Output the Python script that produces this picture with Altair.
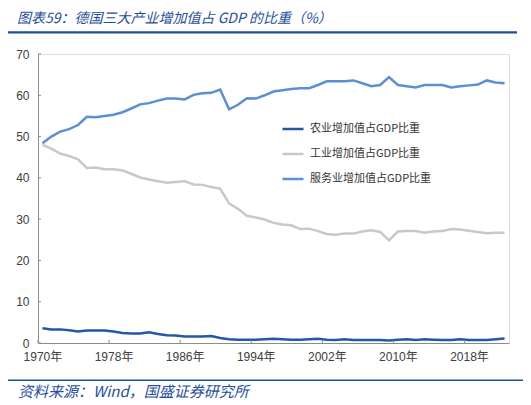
import altair as alt
import pandas as pd

years = list(range(1970, 2023))

agri = [3.6, 3.3, 3.3, 3.1, 2.8, 3.0, 3.0, 3.0, 2.8, 2.4, 2.3,
        2.3, 2.6, 2.2, 1.9, 1.8, 1.6, 1.6, 1.6, 1.7, 1.2,
        0.9, 0.8, 0.8, 0.8, 0.9, 1.0, 0.9, 0.8, 0.8, 0.9,
        1.0, 0.8, 0.7, 0.9, 0.7, 0.7, 0.7, 0.7, 0.6, 0.8,
        0.9, 0.7, 0.9, 0.8, 0.7, 0.7, 0.9, 0.7, 0.7, 0.7,
        0.9, 1.1]

industry = [48.0, 47.1, 45.9, 45.3, 44.5, 42.4, 42.5, 42.1, 42.1, 41.8, 41.0,
            40.1, 39.6, 39.2, 38.8, 39.0, 39.2, 38.4, 38.3, 37.8, 37.4,
            33.8, 32.5, 30.8, 30.4, 29.9, 29.1, 28.7, 28.5, 27.6, 27.7,
            27.1, 26.4, 26.2, 26.5, 26.5, 27.0, 27.3, 26.9, 24.9, 27.0,
            27.1, 27.1, 26.7, 27.0, 27.1, 27.6, 27.5, 27.2, 26.9, 26.6,
            26.7, 26.7]

services = [48.4, 50.0, 51.2, 51.8, 52.8, 54.8, 54.7, 55.0, 55.3, 55.9, 56.8,
            57.8, 58.1, 58.7, 59.2, 59.2, 59.0, 60.1, 60.5, 60.6, 61.4,
            56.6, 57.7, 59.3, 59.2, 60.0, 60.9, 61.2, 61.5, 61.7, 61.7,
            62.5, 63.4, 63.4, 63.4, 63.6, 62.9, 62.2, 62.5, 64.4, 62.5,
            62.2, 61.9, 62.5, 62.5, 62.5, 61.9, 62.2, 62.4, 62.6, 63.6,
            63.1, 62.9]

series_names = ["农业增加值占GDP比重", "工业增加值占GDP比重", "服务业增加值占GDP比重"]
series_colors = ["#2457A7", "#C8C8C8", "#5B8FD5"]

y_ticks = [0, 10, 20, 30, 40, 50, 60, 70]
x_label_years = [1970, 1978, 1986, 1994, 2002, 2010, 2018]
x_tick_positions = [y - 0.5 for y in x_label_years]

title_text = "图表59：德国三大产业增加值占 GDP 的比重（%）"
source_text = "资料来源：Wind，国盛证券研究所"

rows = []
for name, vals in zip(series_names, [agri, industry, services]):
    for yr, v in zip(years, vals):
        rows.append({"year": yr, "value": v, "series": name})
df = pd.DataFrame(rows)

W, H = 471, 289
AXIS_COLOR = "#8C8C8C"
LABEL_FONT = "Liberation Sans, Noto Sans CJK SC"

x_scale = alt.Scale(domain=[1969.5, 2022.5], nice=False, zero=False)
y_scale = alt.Scale(domain=[0, 70], nice=False)

x_axis = alt.Axis(values=x_label_years, labelExpr="datum.value + '年'", tickSize=0,
                  labelPadding=8, labelFontSize=12, labelColor="#404040",
                  labelFont=LABEL_FONT, domainColor=AXIS_COLOR, grid=False,
                  title=None, labelFlush=False, labelOverlap=False)
y_axis = alt.Axis(values=y_ticks, tickSize=0, labelPadding=9, labelFontSize=12,
                  labelColor="#404040", labelFont=LABEL_FONT, domainColor=AXIS_COLOR,
                  grid=False, title=None)

lines = alt.Chart(df).mark_line(strokeWidth=2.5).encode(
    x=alt.X("year:Q", scale=x_scale, axis=x_axis),
    y=alt.Y("value:Q", scale=y_scale, axis=y_axis),
    color=alt.Color("series:N",
                    scale=alt.Scale(domain=series_names, range=series_colors),
                    sort=series_names,
                    legend=alt.Legend(orient="none", legendX=243, legendY=63, title=None,
                                      symbolType="stroke", symbolSize=441,
                                      symbolStrokeWidth=2.5, labelFontSize=11,
                                      labelFont="Noto Sans CJK SC", labelColor="#333333",
                                      rowPadding=8, labelOffset=5, padding=0)),
)

ytick_df = pd.DataFrame({"value": y_ticks})
yticks = alt.Chart(ytick_df).mark_rule(color=AXIS_COLOR, strokeWidth=1).encode(
    y=alt.Y("value:Q", scale=y_scale, axis=y_axis),
    x=alt.value(0), x2=alt.value(3),
)

xtick_df = pd.DataFrame({"year": x_tick_positions})
xticks = alt.Chart(xtick_df).mark_rule(color=AXIS_COLOR, strokeWidth=1).encode(
    x=alt.X("year:Q", scale=x_scale, axis=x_axis),
    y=alt.value(H), y2=alt.value(H - 3),
)

deco = pd.DataFrame({"k": [0]})
title_line = alt.Chart(deco).mark_rule(color="#1F4E9F", strokeWidth=2.2).encode(
    x=alt.value(-33), x2=alt.value(479), y=alt.value(-21.7))
footer_line = alt.Chart(deco).mark_rule(color="#1F4E9F", strokeWidth=1.5).encode(
    x=alt.value(-33), x2=alt.value(488), y=alt.value(326.3))
title = alt.Chart(deco).mark_text(align="left", baseline="top", font="Noto Sans CJK SC",
                                  fontSize=14, fontStyle="italic", color="#1F4E9F").encode(
    x=alt.value(-21), y=alt.value(-42), text=alt.value(title_text))
footer = alt.Chart(deco).mark_text(align="left", baseline="middle", font="Noto Sans CJK SC",
                                   fontSize=15, fontStyle="italic", color="#1F4E9F").encode(
    x=alt.value(-20), y=alt.value(338.3), text=alt.value(source_text))

chart = alt.layer(lines, yticks, xticks, title_line, footer_line, title, footer).properties(
    width=W, height=H,
    autosize=alt.AutoSizeParams(type="none"),
    padding={"left": 30, "top": 46, "right": 14, "bottom": 62},
).configure_view(stroke=None).configure(background="white")

chart.save("out.html", embed_options={"renderer": "svg", "actions": False})
